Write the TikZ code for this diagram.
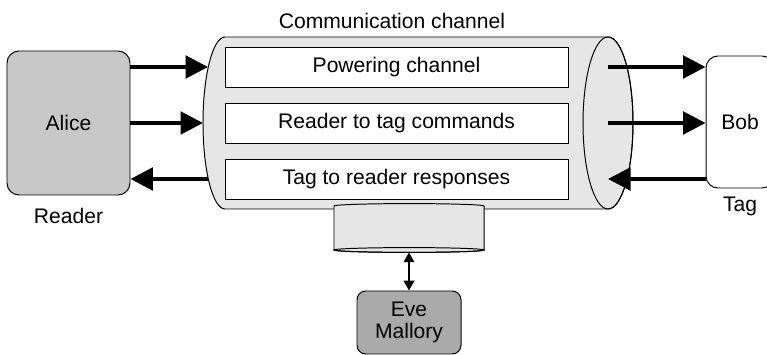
\documentclass[tikz,border=0pt]{standalone}
\usepackage{fontspec}
\setmainfont{Liberation Sans}
\usepackage{tikz}
\usetikzlibrary{arrows.meta, positioning}
\definecolor{readergray}{RGB}{200,200,200}
\definecolor{attackgray}{RGB}{170,170,170}
\definecolor{pipegray}{RGB}{230,230,230}

\begin{document}
\begin{tikzpicture}[
    font=\fontsize{15}{16}\selectfont,
    party/.style={draw, line width=0.7pt, rounded corners=0.3cm, align=center},
    subch/.style={draw, line width=0.7pt, fill=white, minimum width=8.575cm,
                  minimum height=1cm, inner sep=0pt},
    flow/.style={-{Triangle[length=16pt, width=16pt]}, line width=2.8pt},
  ]
  \useasboundingbox (0,0) rectangle (19.175,-8.875);
  \clip (0,0) rectangle (19.175,-8.875);

  % communication channel (lying cylinder)
  \draw[fill=pipegray, line width=0.7pt] (5.625,-0.925) -- (15.2,-0.925)
    arc[start angle=90, end angle=-90, x radius=0.625, y radius=2.15]
    -- (5.625,-5.225)
    arc[start angle=270, end angle=90, x radius=0.55, y radius=2.15] -- cycle;
  \draw[line width=0.7pt] (15.2,-3.075) ellipse[x radius=0.625, y radius=2.15];
  \node (chan) at (9.8,-0.525) {Communication channel};

  \node[subch] (pow)  at (9.9125,-1.675) {Powering channel};
  \node[subch] (cmd)  at (9.9125,-3.075) {Reader to tag commands};
  \node[subch] (resp) at (9.9125,-4.475) {Tag to reader responses};

  % tap on the channel
  \draw[fill=pipegray, line width=0.7pt] (8.35,-5.15)
    arc[start angle=180, end angle=0, x radius=1.875, y radius=0.06]
    -- (12.1,-6.25)
    arc[start angle=0, end angle=-180, x radius=1.875, y radius=0.06] -- cycle;
  \draw[line width=0.7pt] (10.225,-6.25) ellipse[x radius=1.875, y radius=0.06];

  % ends of the connectors on the channel
  \coordinate (inpow)   at (5.2,-1.675);
  \coordinate (incmd)   at (5.075,-3.075);
  \coordinate (outresp) at (5.2,-4.475);
  \coordinate (chanR)   at (15.2,-3.075);
  \coordinate (tap)     at (10.225,-6.31);

  % parties
  \node[party, fill=readergray, minimum width=3.075cm, minimum height=3.6cm]
    (alice) at (1.7125,-3.075) {Alice};
  \node[below=0.2cm of alice] (rdr) {Reader};
  \node[party, fill=white, minimum width=1.7cm, minimum height=3.3cm]
    (bob) at (18.5,-3.05) {Bob};
  \node[below=0.1cm of bob] (tag) {Tag};
  \node[party, fill=attackgray, rounded corners=0.22cm, minimum width=2.6cm,
        minimum height=1.575cm] (eve) at (10.225,-8.0625) {Eve\\Mallory};

  % flows
  \draw[flow] (alice.east |- pow) -- (inpow);
  \draw[flow] (alice.east |- cmd) -- (incmd);
  \draw[flow] (outresp) -- (alice.east |- resp);
  \draw[flow] (chanR |- pow) -- (bob.west |- pow);
  \draw[flow] (chanR |- cmd) -- (bob.west |- cmd);
  \draw[flow] (bob.west |- resp) -- (chanR |- resp);

  \draw[{Triangle[length=7pt, width=7.5pt]}-{Triangle[length=7pt, width=7.5pt]},
        line width=1.4pt] (tap) -- (eve.north);

\end{tikzpicture}
\end{document}
